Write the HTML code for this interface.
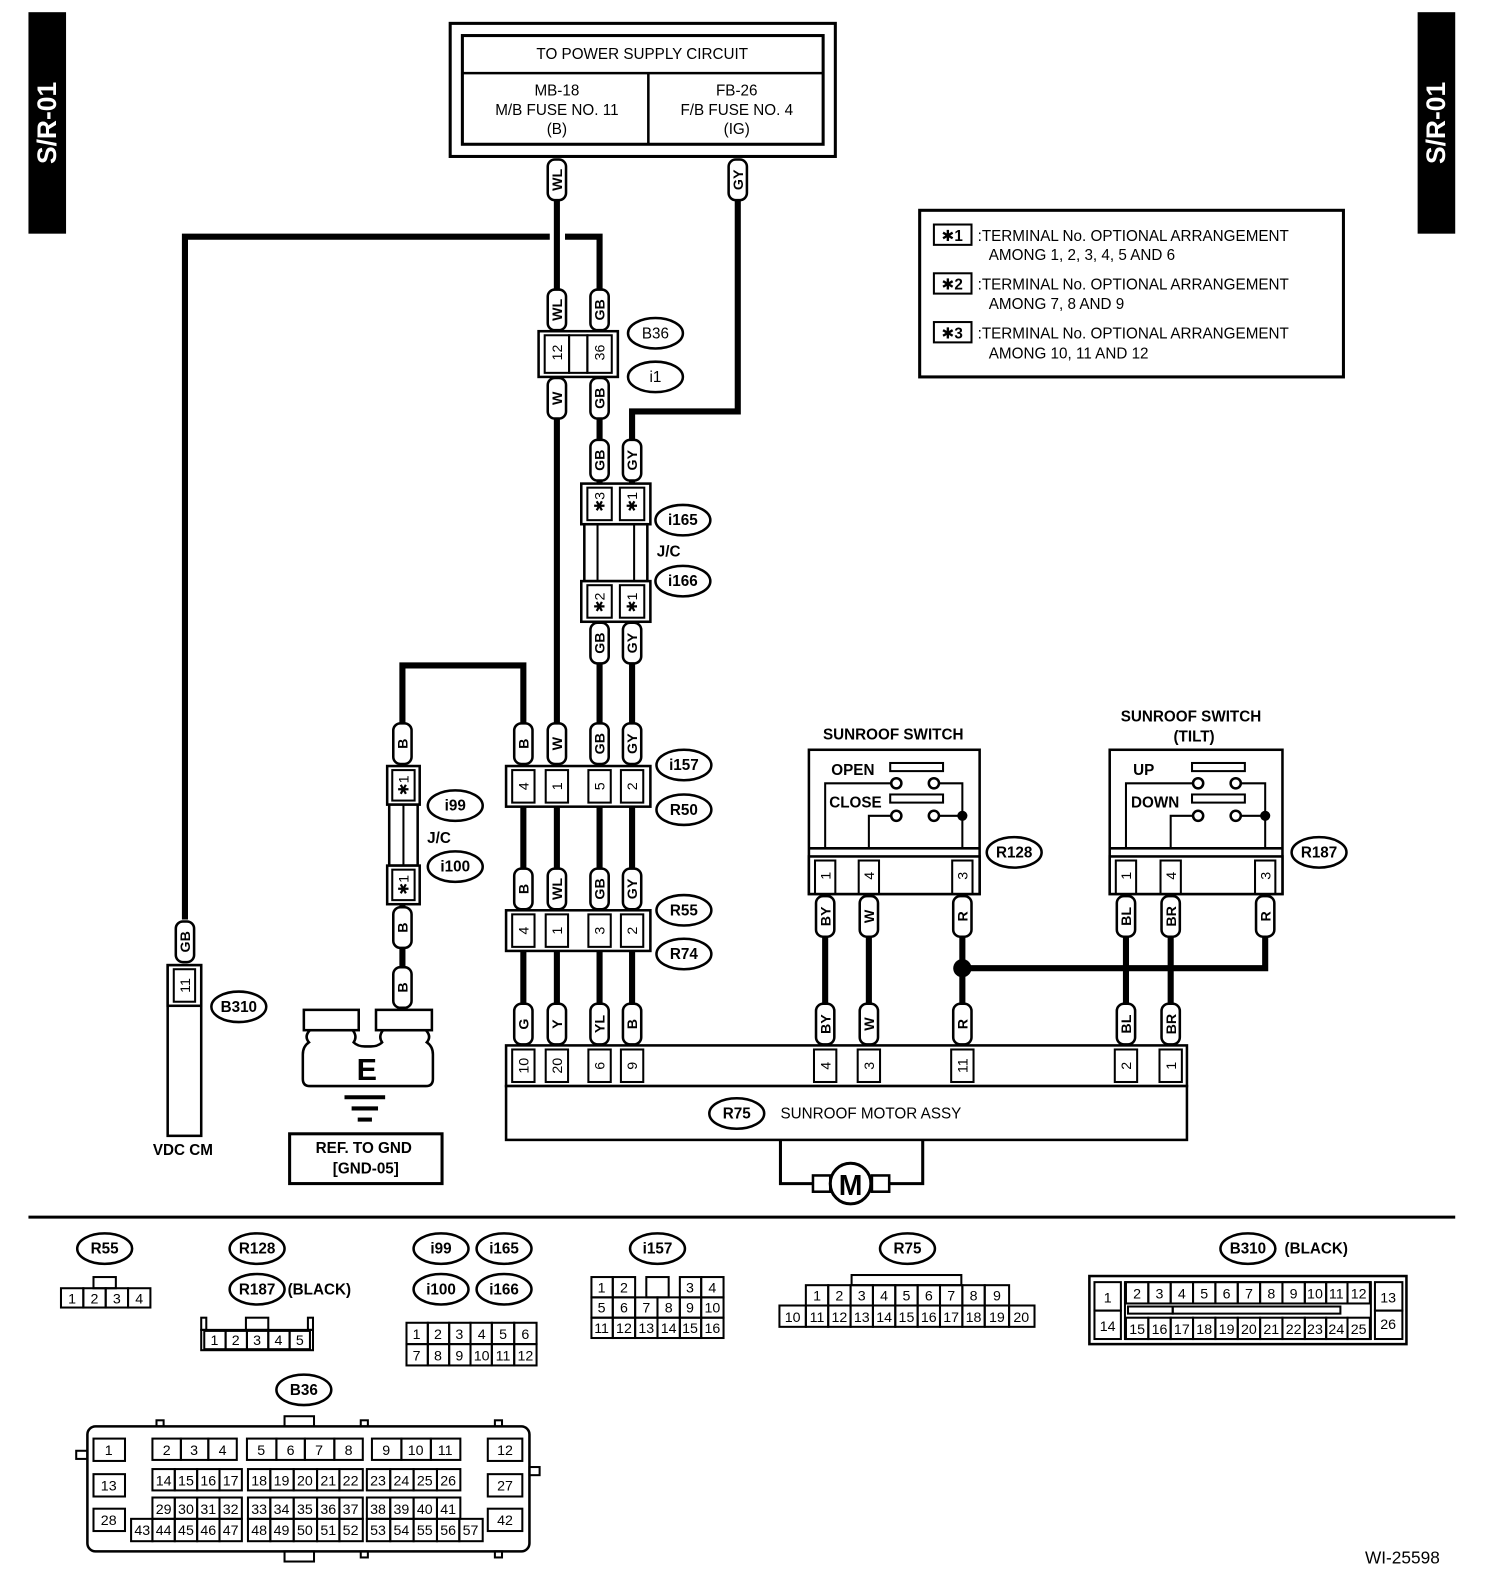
<!DOCTYPE html>
<html><head><meta charset="utf-8"><style>
html,body{margin:0;padding:0;background:#fff}
svg{display:block}
text{font-family:"Liberation Sans","DejaVu Sans",sans-serif;font-weight:bold;fill:#000}
.w{fill:none;stroke:#000;stroke-width:6}
.b{fill:#fff;stroke:#000;stroke-width:2.5}
.t{fill:none;stroke:#000;stroke-width:2}
.p{fill:#fff;stroke:#000;stroke-width:2.5}
.v{font-size:14px;text-anchor:middle}
.c{font-size:14px;text-anchor:middle;font-weight:normal}
.n{font-size:14px;text-anchor:middle;font-weight:normal}
.o{fill:#fff;stroke:#000;stroke-width:2.5}
.l{font-size:15px}
.m{text-anchor:middle}
</style></head><body>
<svg width="1504" height="1592" viewBox="0 0 1480 1567" preserveAspectRatio="none" xmlns="http://www.w3.org/2000/svg">
<rect x="28" y="12" width="37" height="218" fill="#000"/>
<text transform="translate(55,121) rotate(-90)" style="fill:#fff;font-size:26px" text-anchor="middle">S/R-01</text>
<rect x="1395" y="12" width="37" height="218" fill="#000"/>
<text transform="translate(1422,121) rotate(-90)" style="fill:#fff;font-size:26px" text-anchor="middle">S/R-01</text>

<rect x="443" y="23" width="379" height="131" fill="#fff" stroke="#000" stroke-width="3"/>
<rect x="455" y="35" width="355" height="107" fill="none" stroke="#000" stroke-width="3"/>
<line x1="455" y1="72" x2="810" y2="72" stroke="#000" stroke-width="2.5"/>
<line x1="638" y1="72" x2="638" y2="142" stroke="#000" stroke-width="2.5"/>
<text x="632" y="58" class="l m" style="font-weight:normal">TO POWER SUPPLY CIRCUIT</text>
<text x="548" y="94" class="l m" style="font-weight:normal">MB-18</text>
<text x="548" y="113" class="l m" style="font-weight:normal">M/B FUSE NO. 11</text>
<text x="548" y="132" class="l m" style="font-weight:normal">(B)</text>
<text x="725" y="94" class="l m" style="font-weight:normal">FB-26</text>
<text x="725" y="113" class="l m" style="font-weight:normal">F/B FUSE NO. 4</text>
<text x="725" y="132" class="l m" style="font-weight:normal">(IG)</text>

<rect x="905" y="207" width="417" height="164" fill="none" stroke="#000" stroke-width="3"/>
<rect x="919" y="221" width="37" height="20" class="t" stroke-width="2.5"/>
<rect x="919" y="269" width="37" height="20" class="t" stroke-width="2.5"/>
<rect x="919" y="317" width="37" height="20" class="t" stroke-width="2.5"/>
<text x="937" y="237" class="l m">✱1</text>
<text x="937" y="285" class="l m">✱2</text>
<text x="937" y="333" class="l m">✱3</text>
<text x="962" y="237" class="l" style="font-weight:normal">:TERMINAL No. OPTIONAL ARRANGEMENT</text>
<text x="973" y="256" class="l" style="font-weight:normal">AMONG 1, 2, 3, 4, 5 AND 6</text>
<text x="962" y="285" class="l" style="font-weight:normal">:TERMINAL No. OPTIONAL ARRANGEMENT</text>
<text x="973" y="304" class="l" style="font-weight:normal">AMONG 7, 8 AND 9</text>
<text x="962" y="333" class="l" style="font-weight:normal">:TERMINAL No. OPTIONAL ARRANGEMENT</text>
<text x="973" y="353" class="l" style="font-weight:normal">AMONG 10, 11 AND 12</text>

<path class="w" d="M548 157 V1030"/>
<path class="w" d="M182 905 V233 H541"/>
<path class="w" d="M556 233 H590 V1030"/>
<path class="w" d="M726 157 V405 H622 V1030"/>
<path class="w" d="M396 712 V655 H515 V1030"/>
<path class="w" d="M396 712 V990"/>
<path class="w" d="M812 880 V1030 M855 880 V1030 M947 880 V1030 M1108 880 V1030 M1152 880 V1030"/>
<path class="w" d="M1245 880 V953 H947"/>
<circle cx="947" cy="953" r="9"/>

<rect x="530" y="326" width="78" height="45" class="b"/>
<rect x="536" y="330" width="24" height="37" class="t"/><rect x="560" y="330" width="18" height="37" class="t"/><rect x="578" y="330" width="24" height="37" class="t"/>
<text class="c" transform="translate(548,347) rotate(-90)" dy="5">12</text>
<text class="c" transform="translate(590,347) rotate(-90)" dy="5">36</text>

<rect x="572" y="476" width="68" height="40" class="b"/>
<rect x="578" y="480" width="24" height="32" class="t"/><rect x="610" y="480" width="24" height="32" class="t"/>
<text class="c" transform="translate(590,494) rotate(-90)" dy="5">✱3</text>
<text class="c" transform="translate(622,494) rotate(-90)" dy="5">✱1</text>
<rect x="575" y="516" width="62" height="56" class="b"/>
<line x1="588" y1="516" x2="588" y2="572" stroke="#000" stroke-width="2"/>
<line x1="624" y1="516" x2="624" y2="572" stroke="#000" stroke-width="2"/>
<rect x="572" y="572" width="68" height="40" class="b"/>
<rect x="578" y="576" width="24" height="32" class="t"/><rect x="610" y="576" width="24" height="32" class="t"/>
<text class="c" transform="translate(590,593) rotate(-90)" dy="5">✱2</text>
<text class="c" transform="translate(622,593) rotate(-90)" dy="5">✱1</text>

<rect x="498" y="754" width="142" height="40" class="b"/>
<rect x="504" y="758" width="22" height="32" class="t"/><rect x="537" y="758" width="22" height="32" class="t"/><rect x="579" y="758" width="22" height="32" class="t"/><rect x="611" y="758" width="22" height="32" class="t"/>
<text class="c" transform="translate(515,774) rotate(-90)" dy="5">4</text>
<text class="c" transform="translate(548,774) rotate(-90)" dy="5">1</text>
<text class="c" transform="translate(590,774) rotate(-90)" dy="5">5</text>
<text class="c" transform="translate(622,774) rotate(-90)" dy="5">2</text>

<rect x="498" y="896" width="142" height="40" class="b"/>
<rect x="504" y="900" width="22" height="32" class="t"/><rect x="537" y="900" width="22" height="32" class="t"/><rect x="579" y="900" width="22" height="32" class="t"/><rect x="611" y="900" width="22" height="32" class="t"/>
<text class="c" transform="translate(515,916) rotate(-90)" dy="5">4</text>
<text class="c" transform="translate(548,916) rotate(-90)" dy="5">1</text>
<text class="c" transform="translate(590,916) rotate(-90)" dy="5">3</text>
<text class="c" transform="translate(622,916) rotate(-90)" dy="5">2</text>

<rect x="381" y="754" width="32" height="38" class="b"/>
<rect x="386" y="758" width="22" height="30" class="t"/>
<text class="c" transform="translate(397,773) rotate(-90)" dy="5">✱1</text>
<rect x="383" y="792" width="28" height="60" class="b"/>
<line x1="397" y1="792" x2="397" y2="852" stroke="#000" stroke-width="2"/>
<rect x="381" y="852" width="32" height="38" class="b"/>
<rect x="386" y="856" width="22" height="30" class="t"/>
<text class="c" transform="translate(397,871) rotate(-90)" dy="5">✱1</text>

<rect x="165" y="950" width="33" height="168" class="b"/>
<rect x="165" y="950" width="33" height="40" class="b"/>
<rect x="171" y="954" width="21" height="32" class="t"/>
<text class="c" transform="translate(182,970) rotate(-90)" dy="5">11</text>
<text x="180" y="1137" class="l m">VDC CM</text>

<!-- ground -->
<path d="M305 1014 Q299 1020 304 1026 Q298 1030 298 1038 V1062 Q298 1069 305 1069 H419 Q426 1069 426 1062 V1038 Q426 1030 420 1026 Q425 1020 419 1014 H377 Q372 1020 376 1026 Q372 1030 365 1030 H359 Q352 1030 348 1026 Q352 1020 347 1014 Z" fill="#fff" stroke="#000" stroke-width="2.5"/>
<rect x="299" y="994" width="54" height="20" class="b"/>
<rect x="370" y="994" width="55" height="20" class="b"/>
<text x="361" y="1063" class="m" style="font-size:30px">E</text>
<line x1="339" y1="1080" x2="379" y2="1080" stroke="#000" stroke-width="4"/>
<line x1="346" y1="1091" x2="372" y2="1091" stroke="#000" stroke-width="4"/>
<line x1="352" y1="1102" x2="366" y2="1102" stroke="#000" stroke-width="4"/>
<rect x="285" y="1116" width="150" height="49" fill="none" stroke="#000" stroke-width="3"/>
<text x="358" y="1135" class="l m">REF. TO GND</text>
<text x="360" y="1155" class="l m">[GND-05]</text>

<rect x="498" y="1029" width="670" height="40" class="b"/>
<rect x="498" y="1069" width="670" height="53" class="b"/>
<g class="t">
<rect x="504" y="1033" width="22" height="32"/><rect x="537" y="1033" width="22" height="32"/><rect x="579" y="1033" width="22" height="32"/><rect x="611" y="1033" width="22" height="32"/>
<rect x="801" y="1033" width="22" height="32"/><rect x="844" y="1033" width="22" height="32"/><rect x="936" y="1033" width="22" height="32"/><rect x="1097" y="1033" width="22" height="32"/><rect x="1141" y="1033" width="22" height="32"/>
</g>
<text class="c" transform="translate(515,1049) rotate(-90)" dy="5">10</text>
<text class="c" transform="translate(548,1049) rotate(-90)" dy="5">20</text>
<text class="c" transform="translate(590,1049) rotate(-90)" dy="5">6</text>
<text class="c" transform="translate(622,1049) rotate(-90)" dy="5">9</text>
<text class="c" transform="translate(812,1049) rotate(-90)" dy="5">4</text>
<text class="c" transform="translate(855,1049) rotate(-90)" dy="5">3</text>
<text class="c" transform="translate(947,1049) rotate(-90)" dy="5">11</text>
<text class="c" transform="translate(1108,1049) rotate(-90)" dy="5">2</text>
<text class="c" transform="translate(1152,1049) rotate(-90)" dy="5">1</text>
<ellipse cx="725" cy="1096" rx="27" ry="15" class="o"/>
<text x="725" y="1101" class="l m">R75</text>
<text x="768" y="1101" class="l" style="font-weight:normal">SUNROOF MOTOR ASSY</text>
<path d="M768 1122 V1165 H800 M875 1165 H908 V1122" fill="none" stroke="#000" stroke-width="3"/>
<rect x="800" y="1157" width="17" height="16" class="b"/>
<rect x="858" y="1157" width="17" height="16" class="b"/>
<circle cx="837" cy="1165" r="20" fill="#fff" stroke="#000" stroke-width="3"/>
<text x="837" y="1176" class="m" style="font-size:28px">M</text>

<text x="879" y="728" class="l m">SUNROOF SWITCH</text>
<rect x="796" y="738" width="168" height="142" class="b"/>
<line x1="796" y1="835" x2="964" y2="835" stroke="#000" stroke-width="2.5"/>
<rect x="796" y="843" width="168" height="37" class="b"/>
<rect x="802" y="847" width="20" height="33" class="t"/><rect x="845" y="847" width="20" height="33" class="t"/><rect x="937" y="847" width="20" height="33" class="t"/>
<text class="c" transform="translate(812,862) rotate(-90)" dy="5">1</text>
<text class="c" transform="translate(855,862) rotate(-90)" dy="5">4</text>
<text class="c" transform="translate(947,862) rotate(-90)" dy="5">3</text>
<text x="818" y="763" class="l">OPEN</text>
<text x="816" y="795" class="l">CLOSE</text>
<rect x="876" y="751" width="52" height="8" class="t" stroke-width="2.5"/>
<rect x="876" y="782" width="52" height="8" class="t" stroke-width="2.5"/>
<path d="M877 771 H812 V835 M924 771 H947 V835 M877 803 H855 V835 M924 803 H947" fill="none" stroke="#000" stroke-width="2"/>
<circle cx="882" cy="771" r="5" fill="#fff" stroke="#000" stroke-width="2.5"/>
<circle cx="919" cy="771" r="5" fill="#fff" stroke="#000" stroke-width="2.5"/>
<circle cx="882" cy="803" r="5" fill="#fff" stroke="#000" stroke-width="2.5"/>
<circle cx="919" cy="803" r="5" fill="#fff" stroke="#000" stroke-width="2.5"/>
<circle cx="947" cy="803" r="5"/>

<text x="1172" y="710" class="l m">SUNROOF SWITCH</text>
<text x="1175" y="730" class="l m">(TILT)</text>
<rect x="1092" y="738" width="170" height="142" class="b"/>
<line x1="1092" y1="835" x2="1262" y2="835" stroke="#000" stroke-width="2.5"/>
<rect x="1092" y="843" width="170" height="37" class="b"/>
<rect x="1098" y="847" width="20" height="33" class="t"/><rect x="1142" y="847" width="20" height="33" class="t"/><rect x="1235" y="847" width="20" height="33" class="t"/>
<text class="c" transform="translate(1108,862) rotate(-90)" dy="5">1</text>
<text class="c" transform="translate(1152,862) rotate(-90)" dy="5">4</text>
<text class="c" transform="translate(1245,862) rotate(-90)" dy="5">3</text>
<text x="1115" y="763" class="l">UP</text>
<text x="1113" y="795" class="l">DOWN</text>
<rect x="1173" y="751" width="52" height="8" class="t" stroke-width="2.5"/>
<rect x="1173" y="782" width="52" height="8" class="t" stroke-width="2.5"/>
<path d="M1174 771 H1108 V835 M1221 771 H1245 V835 M1174 803 H1152 V835 M1221 803 H1245" fill="none" stroke="#000" stroke-width="2"/>
<circle cx="1179" cy="771" r="5" fill="#fff" stroke="#000" stroke-width="2.5"/>
<circle cx="1216" cy="771" r="5" fill="#fff" stroke="#000" stroke-width="2.5"/>
<circle cx="1179" cy="803" r="5" fill="#fff" stroke="#000" stroke-width="2.5"/>
<circle cx="1216" cy="803" r="5" fill="#fff" stroke="#000" stroke-width="2.5"/>
<circle cx="1245" cy="803" r="5"/>

<g>
<g transform="translate(548,177)"><rect class="p" x="-9" y="-20" width="18" height="40" rx="7"/><text class="v" transform="rotate(-90)" dy="5">WL</text></g>
<g transform="translate(726,177)"><rect class="p" x="-9" y="-20" width="18" height="40" rx="7"/><text class="v" transform="rotate(-90)" dy="5">GY</text></g>
<g transform="translate(548,305)"><rect class="p" x="-9" y="-20" width="18" height="40" rx="7"/><text class="v" transform="rotate(-90)" dy="5">WL</text></g>
<g transform="translate(590,305)"><rect class="p" x="-9" y="-20" width="18" height="40" rx="7"/><text class="v" transform="rotate(-90)" dy="5">GB</text></g>
<g transform="translate(548,392)"><rect class="p" x="-9" y="-20" width="18" height="40" rx="7"/><text class="v" transform="rotate(-90)" dy="5">W</text></g>
<g transform="translate(590,392)"><rect class="p" x="-9" y="-20" width="18" height="40" rx="7"/><text class="v" transform="rotate(-90)" dy="5">GB</text></g>
<g transform="translate(590,453)"><rect class="p" x="-9" y="-20" width="18" height="40" rx="7"/><text class="v" transform="rotate(-90)" dy="5">GB</text></g>
<g transform="translate(622,453)"><rect class="p" x="-9" y="-20" width="18" height="40" rx="7"/><text class="v" transform="rotate(-90)" dy="5">GY</text></g>
<g transform="translate(590,633)"><rect class="p" x="-9" y="-20" width="18" height="40" rx="7"/><text class="v" transform="rotate(-90)" dy="5">GB</text></g>
<g transform="translate(622,633)"><rect class="p" x="-9" y="-20" width="18" height="40" rx="7"/><text class="v" transform="rotate(-90)" dy="5">GY</text></g>
<g transform="translate(396,732)"><rect class="p" x="-9" y="-20" width="18" height="40" rx="7"/><text class="v" transform="rotate(-90)" dy="5">B</text></g>
<g transform="translate(515,732)"><rect class="p" x="-9" y="-20" width="18" height="40" rx="7"/><text class="v" transform="rotate(-90)" dy="5">B</text></g>
<g transform="translate(548,732)"><rect class="p" x="-9" y="-20" width="18" height="40" rx="7"/><text class="v" transform="rotate(-90)" dy="5">W</text></g>
<g transform="translate(590,732)"><rect class="p" x="-9" y="-20" width="18" height="40" rx="7"/><text class="v" transform="rotate(-90)" dy="5">GB</text></g>
<g transform="translate(622,732)"><rect class="p" x="-9" y="-20" width="18" height="40" rx="7"/><text class="v" transform="rotate(-90)" dy="5">GY</text></g>
<g transform="translate(515,875)"><rect class="p" x="-9" y="-20" width="18" height="40" rx="7"/><text class="v" transform="rotate(-90)" dy="5">B</text></g>
<g transform="translate(548,875)"><rect class="p" x="-9" y="-20" width="18" height="40" rx="7"/><text class="v" transform="rotate(-90)" dy="5">WL</text></g>
<g transform="translate(590,875)"><rect class="p" x="-9" y="-20" width="18" height="40" rx="7"/><text class="v" transform="rotate(-90)" dy="5">GB</text></g>
<g transform="translate(622,875)"><rect class="p" x="-9" y="-20" width="18" height="40" rx="7"/><text class="v" transform="rotate(-90)" dy="5">GY</text></g>
<g transform="translate(396,913)"><rect class="p" x="-9" y="-20" width="18" height="40" rx="7"/><text class="v" transform="rotate(-90)" dy="5">B</text></g>
<g transform="translate(396,972)"><rect class="p" x="-9" y="-20" width="18" height="40" rx="7"/><text class="v" transform="rotate(-90)" dy="5">B</text></g>
<g transform="translate(182,927)"><rect class="p" x="-9" y="-20" width="18" height="40" rx="7"/><text class="v" transform="rotate(-90)" dy="5">GB</text></g>
<g transform="translate(515,1008)"><rect class="p" x="-9" y="-20" width="18" height="40" rx="7"/><text class="v" transform="rotate(-90)" dy="5">G</text></g>
<g transform="translate(548,1008)"><rect class="p" x="-9" y="-20" width="18" height="40" rx="7"/><text class="v" transform="rotate(-90)" dy="5">Y</text></g>
<g transform="translate(590,1008)"><rect class="p" x="-9" y="-20" width="18" height="40" rx="7"/><text class="v" transform="rotate(-90)" dy="5">YL</text></g>
<g transform="translate(622,1008)"><rect class="p" x="-9" y="-20" width="18" height="40" rx="7"/><text class="v" transform="rotate(-90)" dy="5">B</text></g>
<g transform="translate(812,1008)"><rect class="p" x="-9" y="-20" width="18" height="40" rx="7"/><text class="v" transform="rotate(-90)" dy="5">BY</text></g>
<g transform="translate(855,1008)"><rect class="p" x="-9" y="-20" width="18" height="40" rx="7"/><text class="v" transform="rotate(-90)" dy="5">W</text></g>
<g transform="translate(947,1008)"><rect class="p" x="-9" y="-20" width="18" height="40" rx="7"/><text class="v" transform="rotate(-90)" dy="5">R</text></g>
<g transform="translate(1108,1008)"><rect class="p" x="-9" y="-20" width="18" height="40" rx="7"/><text class="v" transform="rotate(-90)" dy="5">BL</text></g>
<g transform="translate(1152,1008)"><rect class="p" x="-9" y="-20" width="18" height="40" rx="7"/><text class="v" transform="rotate(-90)" dy="5">BR</text></g>
<g transform="translate(812,902)"><rect class="p" x="-9" y="-20" width="18" height="40" rx="7"/><text class="v" transform="rotate(-90)" dy="5">BY</text></g>
<g transform="translate(855,902)"><rect class="p" x="-9" y="-20" width="18" height="40" rx="7"/><text class="v" transform="rotate(-90)" dy="5">W</text></g>
<g transform="translate(947,902)"><rect class="p" x="-9" y="-20" width="18" height="40" rx="7"/><text class="v" transform="rotate(-90)" dy="5">R</text></g>
<g transform="translate(1108,902)"><rect class="p" x="-9" y="-20" width="18" height="40" rx="7"/><text class="v" transform="rotate(-90)" dy="5">BL</text></g>
<g transform="translate(1152,902)"><rect class="p" x="-9" y="-20" width="18" height="40" rx="7"/><text class="v" transform="rotate(-90)" dy="5">BR</text></g>
<g transform="translate(1245,902)"><rect class="p" x="-9" y="-20" width="18" height="40" rx="7"/><text class="v" transform="rotate(-90)" dy="5">R</text></g>
</g>

<g>
<ellipse cx="645" cy="328" rx="27" ry="15" class="o"/><text x="645" y="333" class="l m" style="font-weight:normal">B36</text>
<ellipse cx="645" cy="371" rx="27" ry="15" class="o"/><text x="645" y="376" class="l m" style="font-weight:normal">i1</text>
<ellipse cx="672" cy="512" rx="27" ry="15" class="o"/><text x="672" y="517" class="l m">i165</text>
<text x="658" y="548" class="l m">J/C</text>
<ellipse cx="672" cy="572" rx="27" ry="15" class="o"/><text x="672" y="577" class="l m">i166</text>
<ellipse cx="673" cy="753" rx="27" ry="15" class="o"/><text x="673" y="758" class="l m">i157</text>
<ellipse cx="673" cy="797" rx="27" ry="15" class="o"/><text x="673" y="802" class="l m">R50</text>
<ellipse cx="448" cy="793" rx="27" ry="15" class="o"/><text x="448" y="798" class="l m">i99</text>
<text x="432" y="830" class="l m">J/C</text>
<ellipse cx="448" cy="853" rx="27" ry="15" class="o"/><text x="448" y="858" class="l m">i100</text>
<ellipse cx="673" cy="896" rx="27" ry="15" class="o"/><text x="673" y="901" class="l m">R55</text>
<ellipse cx="673" cy="939" rx="27" ry="15" class="o"/><text x="673" y="944" class="l m">R74</text>
<ellipse cx="235" cy="991" rx="27" ry="15" class="o"/><text x="235" y="996" class="l m">B310</text>
<ellipse cx="998" cy="839" rx="27" ry="15" class="o"/><text x="998" y="844" class="l m">R128</text>
<ellipse cx="1298" cy="839" rx="27" ry="15" class="o"/><text x="1298" y="844" class="l m">R187</text>
</g>

<line x1="28" y1="1198" x2="1432" y2="1198" stroke="#000" stroke-width="3"/>

<g>
<ellipse cx="103" cy="1229" rx="27" ry="15" class="o"/><text x="103" y="1234" class="l m">R55</text>
<ellipse cx="253" cy="1229" rx="27" ry="15" class="o"/><text x="253" y="1234" class="l m">R128</text>
<ellipse cx="253" cy="1269" rx="27" ry="15" class="o"/><text x="253" y="1274" class="l m">R187</text>
<text x="283" y="1274" class="l">(BLACK)</text>
<ellipse cx="434" cy="1229" rx="27" ry="15" class="o"/><text x="434" y="1234" class="l m">i99</text>
<ellipse cx="496" cy="1229" rx="27" ry="15" class="o"/><text x="496" y="1234" class="l m">i165</text>
<ellipse cx="434" cy="1269" rx="27" ry="15" class="o"/><text x="434" y="1274" class="l m">i100</text>
<ellipse cx="496" cy="1269" rx="27" ry="15" class="o"/><text x="496" y="1274" class="l m">i166</text>
<ellipse cx="647" cy="1229" rx="27" ry="15" class="o"/><text x="647" y="1234" class="l m">i157</text>
<ellipse cx="893" cy="1229" rx="27" ry="15" class="o"/><text x="893" y="1234" class="l m">R75</text>
<ellipse cx="1228" cy="1229" rx="27" ry="15" class="o"/><text x="1228" y="1234" class="l m">B310</text>
<text x="1264" y="1234" class="l">(BLACK)</text>
<ellipse cx="299" cy="1368" rx="27" ry="15" class="o"/><text x="299" y="1373" class="l m">B36</text>
</g>

<g class="t">
<rect x="92" y="1257" width="22" height="11"/>
<rect x="60" y="1268" width="22" height="19"/><rect x="82" y="1268" width="22" height="19"/><rect x="104" y="1268" width="22" height="19"/><rect x="126" y="1268" width="22" height="19"/>
</g>
<text x="71" y="1283" class="n">1</text><text x="93" y="1283" class="n">2</text><text x="115" y="1283" class="n">3</text><text x="137" y="1283" class="n">4</text>

<g class="t">
<rect x="242" y="1297" width="22" height="12"/>
<rect x="198" y="1297" width="5" height="12"/><rect x="303" y="1297" width="5" height="12"/>
<rect x="198" y="1309" width="110" height="20"/>
<rect x="201" y="1310" width="21" height="18"/><rect x="222" y="1310" width="21" height="18"/><rect x="243" y="1310" width="21" height="18"/><rect x="264" y="1310" width="21" height="18"/><rect x="285" y="1310" width="20" height="18"/>
</g>
<text x="211" y="1324" class="n">1</text><text x="232" y="1324" class="n">2</text><text x="253" y="1324" class="n">3</text><text x="274" y="1324" class="n">4</text><text x="295" y="1324" class="n">5</text>

<g class="t">
<rect x="400" y="1302" width="21" height="21"/><rect x="421" y="1302" width="21" height="21"/><rect x="442" y="1302" width="21" height="21"/><rect x="463" y="1302" width="21" height="21"/><rect x="484" y="1302" width="22" height="21"/><rect x="506" y="1302" width="22" height="21"/>
<rect x="400" y="1323" width="21" height="21"/><rect x="421" y="1323" width="21" height="21"/><rect x="442" y="1323" width="21" height="21"/><rect x="463" y="1323" width="21" height="21"/><rect x="484" y="1323" width="22" height="21"/><rect x="506" y="1323" width="22" height="21"/>
</g>
<text x="410" y="1318" class="n">1</text><text x="431" y="1318" class="n">2</text><text x="452" y="1318" class="n">3</text><text x="474" y="1318" class="n">4</text><text x="495" y="1318" class="n">5</text><text x="517" y="1318" class="n">6</text>
<text x="410" y="1339" class="n">7</text><text x="431" y="1339" class="n">8</text><text x="452" y="1339" class="n">9</text><text x="474" y="1339" class="n">10</text><text x="495" y="1339" class="n">11</text><text x="517" y="1339" class="n">12</text>

<g class="t">
<rect x="582" y="1257" width="21" height="20"/><rect x="603" y="1257" width="22" height="20"/><rect x="636" y="1257" width="22" height="20"/><rect x="669" y="1257" width="21" height="20"/><rect x="690" y="1257" width="22" height="20"/>
<rect x="582" y="1277" width="21" height="20"/><rect x="603" y="1277" width="22" height="20"/><rect x="625" y="1277" width="22" height="20"/><rect x="647" y="1277" width="22" height="20"/><rect x="669" y="1277" width="21" height="20"/><rect x="690" y="1277" width="22" height="20"/>
<rect x="582" y="1297" width="21" height="20"/><rect x="603" y="1297" width="22" height="20"/><rect x="625" y="1297" width="22" height="20"/><rect x="647" y="1297" width="22" height="20"/><rect x="669" y="1297" width="21" height="20"/><rect x="690" y="1297" width="22" height="20"/>
</g>
<text x="592" y="1272" class="n">1</text><text x="614" y="1272" class="n">2</text><text x="679" y="1272" class="n">3</text><text x="701" y="1272" class="n">4</text>
<text x="592" y="1292" class="n">5</text><text x="614" y="1292" class="n">6</text><text x="636" y="1292" class="n">7</text><text x="658" y="1292" class="n">8</text><text x="679" y="1292" class="n">9</text><text x="701" y="1292" class="n">10</text>
<text x="592" y="1312" class="n">11</text><text x="614" y="1312" class="n">12</text><text x="636" y="1312" class="n">13</text><text x="658" y="1312" class="n">14</text><text x="679" y="1312" class="n">15</text><text x="701" y="1312" class="n">16</text>

<g class="t">
<rect x="838" y="1255" width="108" height="10"/>
<rect x="793" y="1265" width="22" height="20"/><rect x="815" y="1265" width="22" height="20"/><rect x="837" y="1265" width="22" height="20"/><rect x="859" y="1265" width="22" height="20"/><rect x="881" y="1265" width="22" height="20"/><rect x="903" y="1265" width="22" height="20"/><rect x="925" y="1265" width="22" height="20"/><rect x="947" y="1265" width="22" height="20"/><rect x="969" y="1265" width="24" height="20"/>
<rect x="767" y="1285" width="26" height="21"/><rect x="793" y="1285" width="22" height="21"/><rect x="815" y="1285" width="22" height="21"/><rect x="837" y="1285" width="22" height="21"/><rect x="859" y="1285" width="22" height="21"/><rect x="881" y="1285" width="22" height="21"/><rect x="903" y="1285" width="22" height="21"/><rect x="925" y="1285" width="22" height="21"/><rect x="947" y="1285" width="22" height="21"/><rect x="969" y="1285" width="24" height="21"/><rect x="993" y="1285" width="25" height="21"/>
</g>
<text x="804" y="1280" class="n">1</text><text x="826" y="1280" class="n">2</text><text x="848" y="1280" class="n">3</text><text x="870" y="1280" class="n">4</text><text x="892" y="1280" class="n">5</text><text x="914" y="1280" class="n">6</text><text x="936" y="1280" class="n">7</text><text x="958" y="1280" class="n">8</text><text x="981" y="1280" class="n">9</text>
<text x="780" y="1301" class="n">10</text><text x="804" y="1301" class="n">11</text><text x="826" y="1301" class="n">12</text><text x="848" y="1301" class="n">13</text><text x="870" y="1301" class="n">14</text><text x="892" y="1301" class="n">15</text><text x="914" y="1301" class="n">16</text><text x="936" y="1301" class="n">17</text><text x="958" y="1301" class="n">18</text><text x="981" y="1301" class="n">19</text><text x="1005" y="1301" class="n">20</text>

<g class="t">
<rect x="1072" y="1256" width="312" height="67" stroke-width="2.5"/>
<rect x="1077" y="1262" width="26" height="28"/><rect x="1077" y="1290" width="26" height="28"/>
<rect x="1353" y="1262" width="27" height="28"/><rect x="1353" y="1290" width="27" height="28"/>
<rect x="1107" y="1262" width="242" height="56"/>
<rect x="1108" y="1262" width="22" height="21"/><rect x="1130" y="1262" width="22" height="21"/><rect x="1152" y="1262" width="22" height="21"/><rect x="1174" y="1262" width="22" height="21"/><rect x="1196" y="1262" width="22" height="21"/><rect x="1218" y="1262" width="22" height="21"/><rect x="1240" y="1262" width="22" height="21"/><rect x="1262" y="1262" width="22" height="21"/><rect x="1284" y="1262" width="21" height="21"/><rect x="1305" y="1262" width="21" height="21"/><rect x="1326" y="1262" width="22" height="21"/>
<rect x="1108" y="1297" width="22" height="21"/><rect x="1130" y="1297" width="22" height="21"/><rect x="1152" y="1297" width="22" height="21"/><rect x="1174" y="1297" width="22" height="21"/><rect x="1196" y="1297" width="22" height="21"/><rect x="1218" y="1297" width="22" height="21"/><rect x="1240" y="1297" width="22" height="21"/><rect x="1262" y="1297" width="22" height="21"/><rect x="1284" y="1297" width="21" height="21"/><rect x="1305" y="1297" width="21" height="21"/><rect x="1326" y="1297" width="22" height="21"/>
<rect x="1110" y="1286" width="44" height="7"/><rect x="1154" y="1286" width="165" height="7"/>
</g>
<text x="1090" y="1282" class="n">1</text><text x="1090" y="1310" class="n">14</text><text x="1366" y="1282" class="n">13</text><text x="1366" y="1308" class="n">26</text>
<text x="1119" y="1278" class="n">2</text><text x="1141" y="1278" class="n">3</text><text x="1163" y="1278" class="n">4</text><text x="1185" y="1278" class="n">5</text><text x="1207" y="1278" class="n">6</text><text x="1229" y="1278" class="n">7</text><text x="1251" y="1278" class="n">8</text><text x="1273" y="1278" class="n">9</text><text x="1294" y="1278" class="n">10</text><text x="1315" y="1278" class="n">11</text><text x="1337" y="1278" class="n">12</text>
<text x="1119" y="1313" class="n">15</text><text x="1141" y="1313" class="n">16</text><text x="1163" y="1313" class="n">17</text><text x="1185" y="1313" class="n">18</text><text x="1207" y="1313" class="n">19</text><text x="1229" y="1313" class="n">20</text><text x="1251" y="1313" class="n">21</text><text x="1273" y="1313" class="n">22</text><text x="1294" y="1313" class="n">23</text><text x="1315" y="1313" class="n">24</text><text x="1337" y="1313" class="n">25</text>

<g class="t">
<rect x="86" y="1404" width="435" height="123" rx="8" stroke-width="2.5"/>
<rect x="280" y="1394" width="29" height="10"/><rect x="280" y="1527" width="29" height="10"/>
<rect x="154" y="1398" width="7" height="6"/><rect x="355" y="1398" width="7" height="6"/><rect x="487" y="1398" width="7" height="6"/>
<rect x="355" y="1527" width="7" height="6"/><rect x="487" y="1527" width="7" height="6"/>
<rect x="75" y="1428" width="11" height="8"/><rect x="521" y="1444" width="10" height="8"/>
<rect x="92" y="1416" width="31" height="22"/><rect x="92" y="1451" width="31" height="22"/><rect x="92" y="1485" width="31" height="22"/>
<rect x="480" y="1416" width="34" height="22"/><rect x="480" y="1451" width="34" height="22"/><rect x="480" y="1485" width="34" height="22"/>
<rect x="150" y="1416" width="28" height="21"/><rect x="178" y="1416" width="27" height="21"/><rect x="205" y="1416" width="28" height="21"/>
<rect x="243" y="1416" width="29" height="21"/><rect x="272" y="1416" width="28" height="21"/><rect x="300" y="1416" width="29" height="21"/><rect x="329" y="1416" width="28" height="21"/>
<rect x="366" y="1416" width="29" height="21"/><rect x="395" y="1416" width="29" height="21"/><rect x="424" y="1416" width="29" height="21"/>
<rect x="150" y="1446" width="22" height="21"/><rect x="172" y="1446" width="22" height="21"/><rect x="194" y="1446" width="22" height="21"/><rect x="216" y="1446" width="22" height="21"/>
<rect x="244" y="1446" width="22" height="21"/><rect x="266" y="1446" width="23" height="21"/><rect x="289" y="1446" width="23" height="21"/><rect x="312" y="1446" width="22" height="21"/><rect x="334" y="1446" width="23" height="21"/>
<rect x="361" y="1446" width="23" height="21"/><rect x="384" y="1446" width="23" height="21"/><rect x="407" y="1446" width="23" height="21"/><rect x="430" y="1446" width="23" height="21"/>
<rect x="150" y="1474" width="22" height="21"/><rect x="172" y="1474" width="22" height="21"/><rect x="194" y="1474" width="22" height="21"/><rect x="216" y="1474" width="22" height="21"/>
<rect x="244" y="1474" width="22" height="21"/><rect x="266" y="1474" width="23" height="21"/><rect x="289" y="1474" width="23" height="21"/><rect x="312" y="1474" width="22" height="21"/><rect x="334" y="1474" width="23" height="21"/>
<rect x="361" y="1474" width="23" height="21"/><rect x="384" y="1474" width="23" height="21"/><rect x="407" y="1474" width="23" height="21"/><rect x="430" y="1474" width="23" height="21"/>
<rect x="129" y="1495" width="21" height="22"/><rect x="150" y="1495" width="22" height="22"/><rect x="172" y="1495" width="22" height="22"/><rect x="194" y="1495" width="22" height="22"/><rect x="216" y="1495" width="22" height="22"/>
<rect x="244" y="1495" width="22" height="22"/><rect x="266" y="1495" width="23" height="22"/><rect x="289" y="1495" width="23" height="22"/><rect x="312" y="1495" width="22" height="22"/><rect x="334" y="1495" width="23" height="22"/>
<rect x="361" y="1495" width="23" height="22"/><rect x="384" y="1495" width="23" height="22"/><rect x="407" y="1495" width="23" height="22"/><rect x="430" y="1495" width="22" height="22"/><rect x="452" y="1495" width="23" height="22"/>
</g>
<text x="107" y="1432" class="n">1</text><text x="107" y="1467" class="n">13</text><text x="107" y="1501" class="n">28</text>
<text x="497" y="1432" class="n">12</text><text x="497" y="1467" class="n">27</text><text x="497" y="1501" class="n">42</text>
<text x="164" y="1432" class="n">2</text><text x="191" y="1432" class="n">3</text><text x="219" y="1432" class="n">4</text>
<text x="257" y="1432" class="n">5</text><text x="286" y="1432" class="n">6</text><text x="314" y="1432" class="n">7</text><text x="343" y="1432" class="n">8</text>
<text x="380" y="1432" class="n">9</text><text x="409" y="1432" class="n">10</text><text x="438" y="1432" class="n">11</text>
<text x="161" y="1462" class="n">14</text><text x="183" y="1462" class="n">15</text><text x="205" y="1462" class="n">16</text><text x="227" y="1462" class="n">17</text>
<text x="255" y="1462" class="n">18</text><text x="277" y="1462" class="n">19</text><text x="300" y="1462" class="n">20</text><text x="323" y="1462" class="n">21</text><text x="345" y="1462" class="n">22</text>
<text x="372" y="1462" class="n">23</text><text x="395" y="1462" class="n">24</text><text x="418" y="1462" class="n">25</text><text x="441" y="1462" class="n">26</text>
<text x="161" y="1490" class="n">29</text><text x="183" y="1490" class="n">30</text><text x="205" y="1490" class="n">31</text><text x="227" y="1490" class="n">32</text>
<text x="255" y="1490" class="n">33</text><text x="277" y="1490" class="n">34</text><text x="300" y="1490" class="n">35</text><text x="323" y="1490" class="n">36</text><text x="345" y="1490" class="n">37</text>
<text x="372" y="1490" class="n">38</text><text x="395" y="1490" class="n">39</text><text x="418" y="1490" class="n">40</text><text x="441" y="1490" class="n">41</text>
<text x="140" y="1511" class="n">43</text><text x="161" y="1511" class="n">44</text><text x="183" y="1511" class="n">45</text><text x="205" y="1511" class="n">46</text><text x="227" y="1511" class="n">47</text>
<text x="255" y="1511" class="n">48</text><text x="277" y="1511" class="n">49</text><text x="300" y="1511" class="n">50</text><text x="323" y="1511" class="n">51</text><text x="345" y="1511" class="n">52</text>
<text x="372" y="1511" class="n">53</text><text x="395" y="1511" class="n">54</text><text x="418" y="1511" class="n">55</text><text x="441" y="1511" class="n">56</text><text x="463" y="1511" class="n">57</text>

<text x="1380" y="1539" class="m" style="font-size:17px;font-weight:normal">WI-25598</text>
</svg>
</body></html>
